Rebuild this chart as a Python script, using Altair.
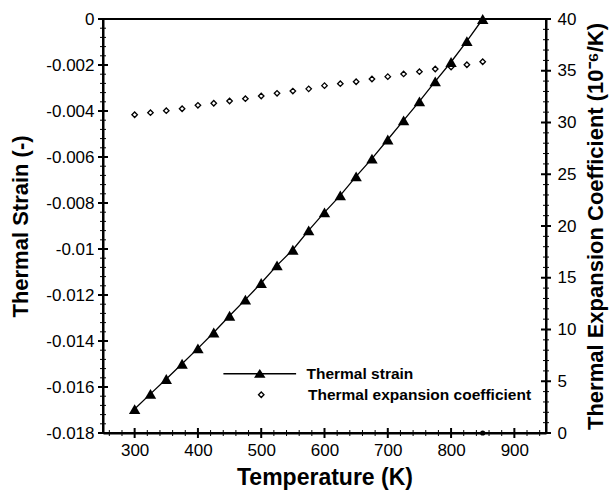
import altair as alt
import pandas as pd

# ---- data ----
temperature = [300, 325, 350, 375, 400, 425, 450, 475, 500, 525, 550, 575,
               600, 625, 650, 675, 700, 725, 750, 775, 800, 825, 850]
thermal_strain = [-0.01696, -0.01630, -0.01565, -0.01499, -0.01432, -0.01363,
                  -0.01290, -0.01220, -0.01148, -0.01071, -0.01003, -0.00919,
                  -0.00841, -0.00767, -0.00684, -0.00607, -0.00524, -0.00441,
                  -0.00358, -0.00271, -0.00187, -0.00096, 0.0]
expansion_coeff = [30.75, 30.95, 31.14, 31.33, 31.66, 31.86, 32.08, 32.30,
                   32.56, 32.82, 33.04, 33.25, 33.56, 33.75, 33.94, 34.20,
                   34.43, 34.69, 34.91, 35.17, 35.36, 35.58, 35.87]
stray_T = [850]
stray_alpha = [0]

series_names = ["Thermal strain", "Thermal expansion coefficient"]

x_major = [300, 400, 500, 600, 700, 800, 900]
x_minor = [260, 280, 320, 340, 360, 380, 420, 440, 460, 480, 520, 540, 560, 580,
           620, 640, 660, 680, 720, 740, 760, 780, 820, 840, 860, 880, 920, 940]
strain_major = [0, -0.002, -0.004, -0.006, -0.008, -0.01, -0.012, -0.014, -0.016, -0.018]
strain_minor = [round(-0.0004 * i, 4) for i in range(46) if i % 5 != 0]
alpha_major = [0, 5, 10, 15, 20, 25, 30, 35, 40]
alpha_minor = [i for i in range(41) if i % 5 != 0]

x_lo, x_hi = 250, 950
s_lo, s_hi = -0.018, 0
a_lo, a_hi = 0, 40

df = pd.DataFrame({"T": temperature, "strain": thermal_strain,
                   "alpha": expansion_coeff, "series": series_names[0],
                   "series2": series_names[1]})
df_stray = pd.DataFrame({"T": stray_T, "alpha": stray_alpha})

FONT = "Liberation Sans"
x_scale = alt.Scale(domain=[x_lo, x_hi], nice=False, zero=False)
s_scale = alt.Scale(domain=[s_lo, s_hi], nice=False, zero=False)
a_scale = alt.Scale(domain=[a_lo, a_hi], nice=False, zero=False)

base = alt.Chart(df)

line = base.mark_line(color="black", strokeWidth=1.3).encode(
    x=alt.X("T:Q", scale=x_scale, axis=alt.Axis(
        orient="bottom", values=x_major, ticks=False, tickSize=0, grid=False,
        domain=True, domainWidth=2, domainColor="black", labelPadding=9,
        labelFontSize=17, labelFont=FONT, labelColor="black",
        title="Temperature (K)", titleFontSize=23, titleFont=FONT,
        titleFontWeight="bold", titleColor="black", titlePadding=8)),
    y=alt.Y("strain:Q", scale=s_scale, axis=alt.Axis(
        orient="left", values=strain_major, ticks=False, tickSize=0, grid=False,
        domain=True, domainWidth=2, domainColor="black", labelPadding=9,
        labelFontSize=17, labelFont=FONT, labelColor="black",
        labelExpr="datum.value == 0 ? '0' : '-' + format(abs(datum.value), '~g')",
        title="Thermal Strain (-)", titleFontSize=22, titleFont=FONT,
        titleFontWeight="bold", titleColor="black", titlePadding=13)),
)

tri = base.mark_point(shape="triangle-up", filled=True, size=130, color="black",
                      opacity=1).encode(
    x=alt.X("T:Q", scale=x_scale, axis=None),
    y=alt.Y("strain:Q", scale=s_scale, axis=None),
)

dia = base.mark_point(shape="diamond", filled=False, size=30, color="black",
                      strokeWidth=1.3, opacity=1).encode(
    x=alt.X("T:Q", scale=x_scale, axis=None),
    y=alt.Y("alpha:Q", scale=a_scale, axis=alt.Axis(
        orient="right", values=alpha_major, ticks=False, tickSize=0, grid=False,
        domain=True, domainWidth=2, domainColor="black", labelPadding=11,
        labelFontSize=17, labelFont=FONT, labelColor="black",
        title="Thermal Expansion Coefficient (10⁻⁶/K)", titleFontSize=22,
        titleFont=FONT, titleFontWeight="bold", titleColor="black",
        titleAngle=270, titleBaseline="top", titlePadding=10)),
)

stray = alt.Chart(df_stray).mark_point(shape="circle", filled=False, size=14,
                                       color="black", strokeWidth=1.5,
                                       opacity=1).encode(
    x=alt.X("T:Q", scale=x_scale, axis=None),
    y=alt.Y("alpha:Q", scale=a_scale, axis=None),
)


# crossing tick marks along the frame, placed through the scales
def x_ticks(values, size, thick):
    return alt.Chart(pd.DataFrame({"v": values})).mark_tick(
        orient="vertical", size=size, thickness=thick, color="black", opacity=1
    ).encode(
        x=alt.X("v:Q", scale=x_scale, axis=None),
        y=alt.YDatum(s_lo, scale=s_scale, axis=None),
    )


def y_ticks(values, size, thick, scale, x_at):
    return alt.Chart(pd.DataFrame({"v": values})).mark_tick(
        orient="horizontal", size=size, thickness=thick, color="black", opacity=1
    ).encode(
        y=alt.Y("v:Q", scale=scale, axis=None),
        x=alt.XDatum(x_at, scale=x_scale, axis=None),
    )


tick_layers = [
    x_ticks(x_major, 10, 2),
    x_ticks(x_minor, 6, 1),
    y_ticks(strain_major, 10, 2, s_scale, x_lo),
    y_ticks(strain_minor, 6, 1, s_scale, x_lo),
    y_ticks(alpha_major, 10, 2, a_scale, x_hi),
    y_ticks(alpha_minor, 6, 1, a_scale, x_hi),
]

line_tri_path = ("M-7.27,-0.14H7.27V0.14H-7.27Z"
                 "M-1.15,0.8L0,-0.95L1.15,0.8Z")
leg_strain = base.mark_point(filled=True, color="black", opacity=1).encode(
    x=alt.X("T:Q", scale=x_scale, axis=None),
    y=alt.Y("strain:Q", scale=s_scale, axis=None),
    shape=alt.Shape("series:N", scale=alt.Scale(domain=[series_names[0]],
                                                range=[line_tri_path]),
                    legend=alt.Legend(orient="none", legendX=149, legendY=347,
                                      title=None, symbolSize=100, padding=0,
                                      labelOffset=39, symbolFillColor="black",
                                      symbolStrokeColor="black",
                                      symbolStrokeWidth=0)),
).transform_filter("false")

leg_alpha = base.mark_point(filled=False, color="black", strokeWidth=1.3,
                            opacity=1).encode(
    x=alt.X("T:Q", scale=x_scale, axis=None),
    y=alt.Y("alpha:Q", scale=a_scale, axis=None),
    shape=alt.Shape("series2:N", scale=alt.Scale(domain=[series_names[1]],
                                                 range=["diamond"]),
                    legend=alt.Legend(orient="none", legendX=150.5, legendY=368,
                                      title=None, symbolSize=30, padding=0,
                                      labelOffset=39, symbolStrokeColor="black",
                                      symbolStrokeWidth=1.3)),
).transform_filter("false")

chart = alt.layer(
    line, tri, dia, stray, *tick_layers, leg_strain, leg_alpha
).resolve_scale(
    y="independent", shape="independent"
).resolve_axis(
    x="independent", y="independent"
).resolve_legend(
    shape="independent"
).properties(
    width=443, height=414,
    padding={"left": 103, "top": 19, "right": 67, "bottom": 61},
    autosize=alt.AutoSizeParams(type="none"),
    background="white",
).configure_view(
    stroke="black", strokeWidth=2
).configure_legend(
    labelFont=FONT, labelFontSize=15.5, labelFontWeight="bold",
    labelColor="black", labelLimit=400
)

chart.save("out.html", embed_options={"renderer": "svg", "actions": False})
